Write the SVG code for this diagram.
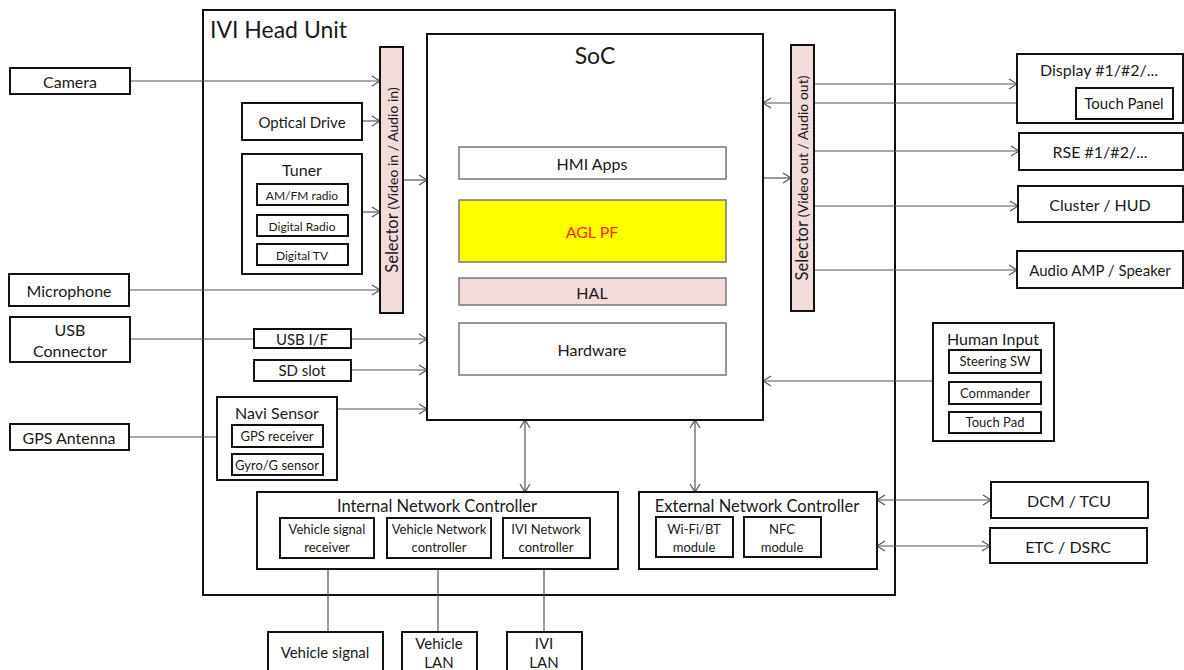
<svg xmlns="http://www.w3.org/2000/svg" width="1184" height="670" viewBox="0 0 1184 670">
<style>
text{font-family:Lato,"Open Sans","Liberation Sans",sans-serif;fill:#1a1a1a;text-anchor:middle;dominant-baseline:central}
.b{fill:#fff;stroke:#111;stroke-width:2}
.g{fill:#fff;stroke:#777;stroke-width:1.5}
.sel{fill:#f2dcdb;stroke:#111;stroke-width:2}
.c{stroke:#555;stroke-width:1.2;fill:none}
.t15{font-size:16px}
.t14{font-size:15px}
.t12{font-size:13px}
.t11{font-size:12px}
.ttl{font-size:16.5px}
</style>
<defs>
<marker id="a" markerUnits="userSpaceOnUse" markerWidth="12" markerHeight="12" refX="9" refY="6" orient="auto-start-reverse">
<path d="M1,1 L9,6 L1,11" fill="none" stroke="#555" stroke-width="1.2"/>
</marker>
</defs>
<rect width="1184" height="670" fill="#fff"/>

<g id="head-unit">
<rect class="b" x="203" y="10" width="692" height="585"/>
<text x="210" y="29" style="font-size:23px;text-anchor:start">IVI Head Unit</text>
</g>

<g id="connectors">
<line class="c" x1="130" y1="81" x2="380" y2="81" marker-end="url(#a)"/>
<line class="c" x1="362" y1="121" x2="380" y2="121" marker-end="url(#a)"/>
<line class="c" x1="362" y1="212" x2="380" y2="212" marker-end="url(#a)"/>
<line class="c" x1="129" y1="290" x2="380" y2="290" marker-end="url(#a)"/>
<line class="c" x1="403" y1="180" x2="427" y2="180" marker-end="url(#a)"/>
<line class="c" x1="130" y1="339" x2="254" y2="339"/>
<line class="c" x1="351" y1="339" x2="427" y2="339" marker-end="url(#a)"/>
<line class="c" x1="351" y1="370" x2="427" y2="370" marker-end="url(#a)"/>
<line class="c" x1="337" y1="409" x2="427" y2="409" marker-end="url(#a)"/>
<line class="c" x1="129" y1="437" x2="232" y2="437"/>
<line class="c" x1="763" y1="178" x2="791" y2="178" marker-end="url(#a)"/>
<line class="c" x1="814" y1="84" x2="1017" y2="84" marker-end="url(#a)"/>
<line class="c" x1="1076" y1="103" x2="763" y2="103" marker-end="url(#a)"/>
<line class="c" x1="814" y1="151" x2="1019" y2="151" marker-end="url(#a)"/>
<line class="c" x1="814" y1="206" x2="1018" y2="206" marker-end="url(#a)"/>
<line class="c" x1="814" y1="270" x2="1017" y2="270" marker-end="url(#a)"/>
<line class="c" x1="933" y1="381" x2="763" y2="381" marker-end="url(#a)"/>
<line class="c" x1="525" y1="420" x2="525" y2="492" marker-start="url(#a)" marker-end="url(#a)"/>
<line class="c" x1="695" y1="420" x2="695" y2="492" marker-start="url(#a)" marker-end="url(#a)"/>
<line class="c" x1="877" y1="500" x2="991" y2="500" marker-start="url(#a)" marker-end="url(#a)"/>
<line class="c" x1="877" y1="546" x2="990" y2="546" marker-start="url(#a)" marker-end="url(#a)"/>
<line class="c" x1="328" y1="558" x2="328" y2="632"/>
<line class="c" x1="438" y1="558" x2="438" y2="632"/>
<line class="c" x1="544" y1="558" x2="544" y2="632"/>
</g>

<g id="camera"><rect class="b" x="10" y="68" width="120" height="26"/><text class="t15" x="70" y="81">Camera</text></g>
<g id="microphone"><rect class="b" x="9" y="274" width="120" height="32"/><text class="t15" x="69" y="290">Microphone</text></g>
<g id="usb-connector"><rect class="b" x="10" y="317" width="120" height="45"/><text class="t15" x="70" y="329">USB</text><text class="t15" x="70" y="350">Connector</text></g>
<g id="gps-antenna"><rect class="b" x="10" y="424" width="119" height="26"/><text class="t15" x="69" y="437">GPS Antenna</text></g>

<g id="selector-in">
<rect class="sel" x="380" y="47" width="23" height="266"/>
<text transform="translate(392,180) rotate(-90)"><tspan style="font-size:16.5px">Selector </tspan><tspan style="font-size:14px">(Video in / Audio in)</tspan></text>
</g>
<g id="optical-drive"><rect class="b" x="242" y="103" width="120" height="37"/><text class="t14" x="302" y="122">Optical Drive</text></g>
<g id="tuner">
<rect class="b" x="242" y="154" width="120" height="120"/>
<text class="t15" x="302" y="169">Tuner</text>
<rect class="b" x="257" y="184" width="91" height="21"/><text class="t11" x="302" y="195">AM/FM radio</text>
<rect class="b" x="257" y="215" width="91" height="21"/><text class="t11" x="302" y="226">Digital Radio</text>
<rect class="b" x="257" y="244" width="91" height="21"/><text class="t11" x="302" y="255">Digital TV</text>
</g>
<g id="usb-if"><rect class="b" x="254" y="329" width="97" height="19"/><text class="t14" x="302" y="339">USB I/F</text></g>
<g id="sd-slot"><rect class="b" x="254" y="360" width="97" height="21"/><text class="t14" x="302" y="370">SD slot</text></g>
<g id="navi-sensor">
<rect class="b" x="217" y="397" width="120" height="83"/>
<text class="t15" x="277" y="412">Navi Sensor</text>
<rect class="b" x="232" y="425" width="91" height="22"/><text class="t12" x="277" y="436">GPS receiver</text>
<rect class="b" x="232" y="454" width="91" height="21"/><text class="t12" x="277" y="465">Gyro/G sensor</text>
</g>

<g id="soc">
<rect class="b" x="427" y="34" width="336" height="386"/>
<text x="595" y="55" style="font-size:23px">SoC</text>
<rect class="g" x="459" y="147" width="267" height="32"/><text class="t15" x="592" y="163">HMI Apps</text>
<rect x="459" y="200" width="267" height="62" fill="#ffff00" stroke="#777" stroke-width="1.5"/><text class="t15" x="592" y="231" style="fill:#ff2a00">AGL PF</text>
<rect x="459" y="278" width="267" height="27" fill="#f2dcdb" stroke="#777" stroke-width="1.5"/><text class="t15" x="592" y="292">HAL</text>
<rect class="g" x="459" y="323" width="267" height="52"/><text class="t15" x="592" y="349">Hardware</text>
</g>

<g id="selector-out">
<rect class="sel" x="791" y="45" width="23" height="266"/>
<text transform="translate(802,178) rotate(-90)"><tspan style="font-size:16.5px">Selector </tspan><tspan style="font-size:14px">(Video out / Audio out)</tspan></text>
</g>

<g id="display">
<rect class="b" x="1017" y="54" width="166" height="69"/>
<text class="t15" x="1099" y="69">Display #1/#2/...</text>
<rect class="b" x="1076" y="88" width="97" height="31"/><text class="t14" x="1124" y="103">Touch Panel</text>
</g>
<g id="rse"><rect class="b" x="1019" y="133" width="164" height="37"/><text class="t15" x="1100" y="151">RSE #1/#2/...</text></g>
<g id="cluster"><rect class="b" x="1018" y="186" width="165" height="36"/><text class="t15" x="1100" y="204">Cluster / HUD</text></g>
<g id="audio-amp"><rect class="b" x="1017" y="251" width="166" height="37"/><text class="t14" x="1100" y="270">Audio AMP / Speaker</text></g>

<g id="human-input">
<rect class="b" x="933" y="323" width="121" height="118"/>
<text class="t15" x="993" y="338">Human Input</text>
<rect class="b" x="949" y="350" width="92" height="23"/><text class="t12" x="995" y="361">Steering SW</text>
<rect class="b" x="949" y="382" width="92" height="22"/><text class="t12" x="995" y="393">Commander</text>
<rect class="b" x="949" y="412" width="92" height="21"/><text class="t12" x="995" y="422">Touch Pad</text>
</g>

<g id="internal-network-controller">
<rect class="b" x="257" y="492" width="361" height="77"/>
<text class="ttl" x="437" y="506">Internal Network Controller</text>
<rect class="b" x="280" y="518" width="94" height="40"/><text class="t12" x="327" y="529">Vehicle signal</text><text class="t12" x="327" y="547">receiver</text>
<rect class="b" x="387" y="518" width="104" height="40"/><text class="t12" x="439" y="529">Vehicle Network</text><text class="t12" x="439" y="547">controller</text>
<rect class="b" x="503" y="518" width="87" height="40"/><text class="t12" x="546" y="529">IVI Network</text><text class="t12" x="546" y="547">controller</text>
</g>

<g id="external-network-controller">
<rect class="b" x="639" y="492" width="238" height="77"/>
<text class="ttl" x="757" y="506">External Network Controller</text>
<rect class="b" x="656" y="517" width="77" height="40"/><text class="t12" x="694" y="529">Wi-Fi/BT</text><text class="t12" x="694" y="547">module</text>
<rect class="b" x="744" y="517" width="77" height="40"/><text class="t12" x="782" y="529">NFC</text><text class="t12" x="782" y="547">module</text>
</g>

<g id="dcm-tcu"><rect class="b" x="991" y="482" width="157" height="36"/><text class="t15" x="1069" y="500">DCM / TCU</text></g>
<g id="etc-dsrc"><rect class="b" x="990" y="528" width="157" height="35"/><text class="t15" x="1068" y="546">ETC / DSRC</text></g>

<g id="vehicle-signal"><rect class="b" x="268" y="632" width="115" height="50"/><text class="t14" x="325" y="652">Vehicle signal</text></g>
<g id="vehicle-lan"><rect class="b" x="402" y="632" width="75" height="50"/><text class="t14" x="439" y="643">Vehicle</text><text class="t14" x="439" y="662">LAN</text></g>
<g id="ivi-lan"><rect class="b" x="507" y="632" width="75" height="50"/><text class="t14" x="544" y="643">IVI</text><text class="t14" x="544" y="662">LAN</text></g>
</svg>
